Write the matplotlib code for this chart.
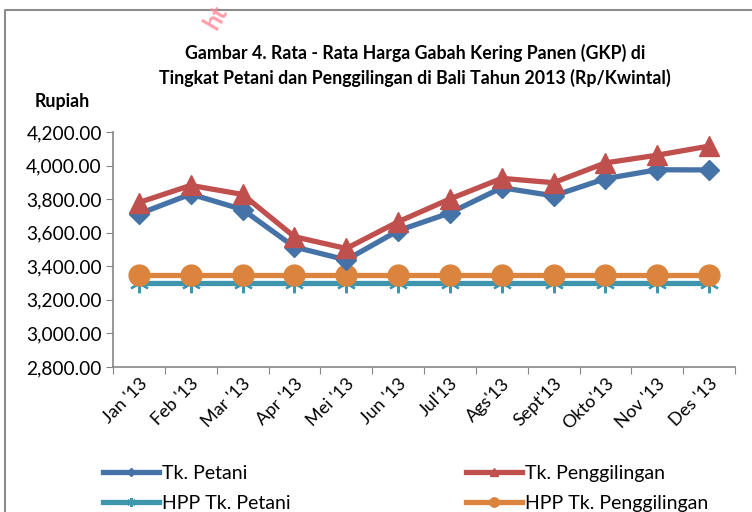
import matplotlib
matplotlib.use("Agg")
import matplotlib.pyplot as plt
from matplotlib.lines import Line2D

months = ["Jan '13", "Feb '13", "Mar '13", "Apr '13", "Mei '13", "Jun '13",
          "Jul'13", "Ags'13", "Sept'13", "Okto'13", "Nov '13", "Des '13"]
tk_petani = [3712, 3830, 3738, 3515, 3438, 3612, 3718, 3868, 3820, 3922, 3975, 3974]
tk_penggilingan = [3780, 3882, 3828, 3576, 3506, 3665, 3801, 3924, 3898, 4016, 4062, 4116]
hpp_petani = [3300] * 12
hpp_penggilingan = [3350] * 12
yticks = [2800, 3000, 3200, 3400, 3600, 3800, 4000, 4200]

plt.rcParams['font.family'] = ['Lato', 'DejaVu Sans']

W, H = 752, 512
fig = plt.figure(figsize=(W / 100, H / 100), dpi=100)
ax = fig.add_axes([113 / W, 1 - 367 / H, (735 - 113) / W, (367 - 132) / H])

x = list(range(len(months)))
c_blue = '#4572A7'
c_red = '#C0504D'
c_teal = '#3D96AE'
c_orange = '#DB843D'

l3, = ax.plot(x, hpp_petani, color=c_teal, lw=3.8, marker=(6, 2, 0), ms=14, mew=1.6,
              mec=c_teal, label='HPP Tk. Petani', zorder=3)
l4, = ax.plot(x, hpp_penggilingan, color=c_orange, lw=3.8, marker='o', ms=15,
              mec=c_orange, label='HPP Tk. Penggilingan', zorder=3)
l1, = ax.plot(x, tk_petani, color=c_blue, lw=3.8, marker='D', ms=10,
              label='Tk. Petani', zorder=4)
l2, = ax.plot(x, tk_penggilingan, color=c_red, lw=3.8, marker='^', ms=14,
              label='Tk. Penggilingan', zorder=5)

ax.set_xlim(-0.5, 11.5)
ax.set_ylim(2800, 4200)
ax.set_yticks(yticks)
ax.set_yticklabels([f"{v:,.2f}" for v in yticks], fontsize=13.8)

ax.set_xticks([i - 0.5 for i in range(13)])
ax.set_xticklabels([])
ax.set_xticks(x, minor=True)
ax.set_xticklabels(months, minor=True, rotation=45, ha='right', va='top',
                   rotation_mode='anchor', fontsize=13)
ax.tick_params(axis='x', which='minor', length=0, pad=6)
ax.tick_params(axis='x', which='major', length=5, color='#868686', direction='out')
ax.tick_params(axis='y', length=5, color='#868686', direction='out', pad=3)

for s in ['top', 'right']:
    ax.spines[s].set_visible(False)
for s in ['left', 'bottom']:
    ax.spines[s].set_color('#868686')
    ax.spines[s].set_linewidth(1.2)

fig.text(415 / W, 1 - 53 / H, "Gambar 4. Rata - Rata Harga Gabah Kering Panen (GKP) di",
         ha='center', va='center', fontsize=12.8, fontweight='bold')
fig.text(415 / W, 1 - 78 / H, "Tingkat Petani dan Penggilingan di Bali Tahun 2013 (Rp/Kwintal)",
         ha='center', va='center', fontsize=12.8, fontweight='bold')
fig.text(35 / W, 1 - 101 / H, "Rupiah", ha='left', va='center', fontsize=12.8, fontweight='bold')

leg = fig.legend([l1, l3, l2, l4],
                 ['Tk. Petani', 'HPP Tk. Petani', 'Tk. Penggilingan', 'HPP Tk. Penggilingan'],
                 ncol=2, loc='upper left', bbox_to_anchor=(103 / W, 1 - 465 / H),
                 frameon=False, fontsize=14, handlelength=2.9, handletextpad=0.15,
                 columnspacing=9.0, labelspacing=0.68, markerscale=0.45, borderpad=0,
                 borderaxespad=0)

# outer chart frame
fig.add_artist(Line2D([5 / W, 5 / W, 1.0], [0, 1 - 10 / H, 1 - 10 / H],
                      transform=fig.transFigure, color='#8c8c8c', lw=1.5))

# watermark fragment
fig.text(216 / W, 1 - 17 / H, "ht", color='#ff8a9a', fontsize=18, fontweight='bold',
         rotation=60, ha='center', va='center', alpha=0.85)

fig.savefig('out.png', dpi=100)
